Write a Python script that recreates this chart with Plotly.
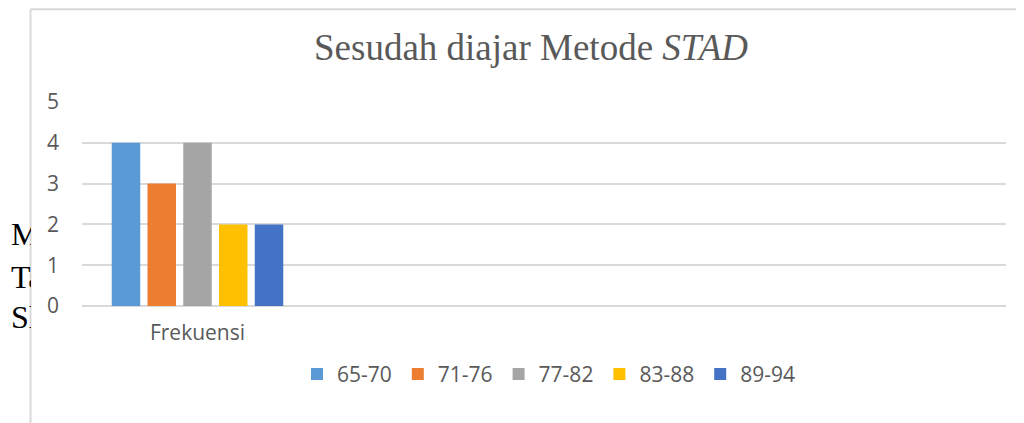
import plotly.graph_objects as go

categories = ["Frekuensi"]
series_names = ["65-70", "71-76", "77-82", "83-88", "89-94"]
series_values = [[4], [3], [4], [2], [2]]
series_colors = ["#5B9BD5", "#ED7D31", "#A5A5A5", "#FFC000", "#4472C4"]
y_ticks = [0, 1, 2, 3, 4, 5]

# the page body adds an 8px offset; figure covers screen 8..1024 x 8..423
OFF = 8
W, H = 1024 - OFF, 423 - OFF
L, R, T, B = 82, 1006, 102, 306.5   # plot area in screen pixels

fig = go.Figure()
for name, vals, col in zip(series_names, series_values, series_colors):
    fig.add_trace(go.Bar(x=categories, y=vals, name=name, marker=dict(color=col, line=dict(width=0))))

def px2x(px):
    return (px - L) / (R - L)

def py2y(py):
    return (B - py) / (B - T)

fig.update_layout(
    width=W, height=H,
    margin=dict(l=L - OFF, r=1024 - R, t=T - OFF, b=423 - B, pad=0),
    paper_bgcolor="white", plot_bgcolor="white",
    barmode="group", bargap=0.226, bargroupgap=0.203,
    showlegend=True,
    legend=dict(orientation="h", x=px2x(297), y=py2y(375), xanchor="left", yanchor="middle",
                font=dict(family="Open Sans", size=21, color="#595959"),
                itemwidth=30, entrywidth=55.8, entrywidthmode="pixels", traceorder="normal"),
    title=dict(text="Sesudah diajar Metode <i>STAD</i>", x=(531 - OFF) / W, xanchor="center",
               y=1 - (47 - OFF) / H, yanchor="middle", yref="container",
               font=dict(family="Liberation Serif", size=37, color="#595959")),
    xaxis=dict(type="category", range=[-0.5, 3.5], showgrid=False, zeroline=False, showline=False,
               ticks="", tickfont=dict(family="Open Sans", size=21, color="#595959"), ticklabelstandoff=12),
    yaxis=dict(range=[0, 5], tickvals=y_ticks, showgrid=True, gridcolor="#D9D9D9", gridwidth=1.6,
               zeroline=True, zerolinecolor="#D9D9D9", zerolinewidth=1.6, showline=False, ticks="",
               tickfont=dict(family="Open Sans", size=21, color="#595959"), ticklabelstandoff=22),
    font=dict(family="Open Sans", color="#595959"),
)

# chart border (left & top)
fig.add_shape(type="line", xref="paper", yref="paper", x0=px2x(30.5), x1=px2x(30.5), y0=py2y(9), y1=py2y(430),
              line=dict(color="#D9D9D9", width=2))
fig.add_shape(type="line", xref="paper", yref="paper", x0=px2x(30.5), x1=px2x(1030), y0=py2y(9), y1=py2y(9),
              line=dict(color="#D9D9D9", width=2))

# background document text peeking out on the left
side_text = ["M", "Ta", "Sl"]
side_y = [234, 277, 318]
for t, yy in zip(side_text, side_y):
    fig.add_annotation(text=t, xref="paper", yref="paper", x=px2x(9), y=py2y(yy), xanchor="left", yanchor="middle",
                       showarrow=False, width=20, align="left",
                       font=dict(family="Liberation Serif", size=32, color="#000000"))

fig.write_html("out.html")
